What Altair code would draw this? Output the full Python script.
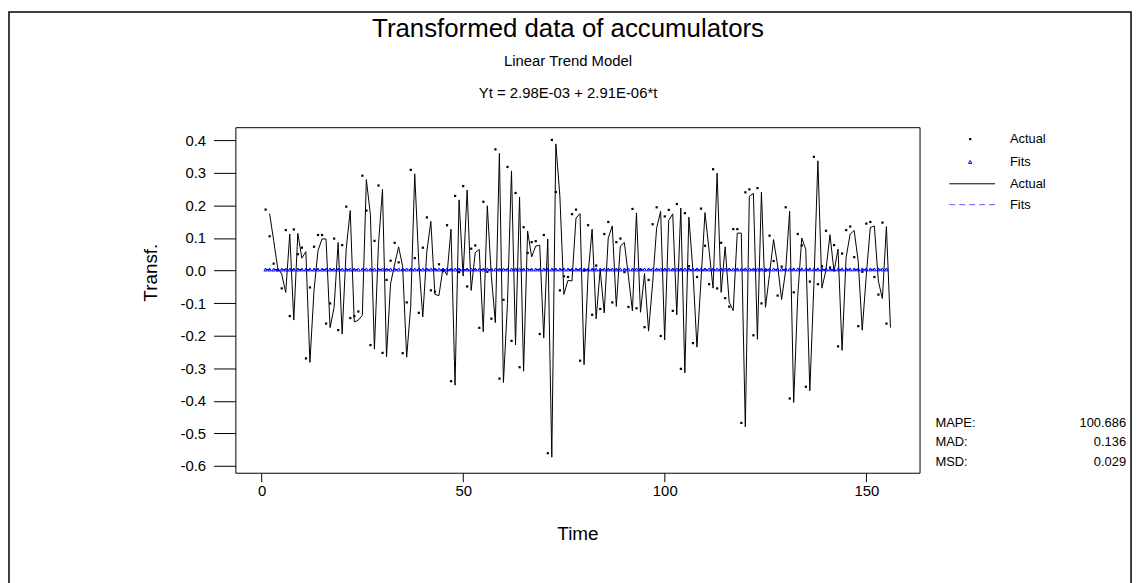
import altair as alt
import pandas as pd

# ---------------- data ----------------
T = list(range(1, 156))

ACTUAL = [
    0.187, 0.105, 0.021, 0.001, -0.055, 0.124, -0.140, 0.126, 0.050, 0.070,
    -0.270, -0.052, 0.073, 0.109, 0.109, -0.163, -0.101, 0.098, -0.183, 0.078,
    0.196, -0.146, -0.140, -0.126, 0.291, 0.184, -0.229, 0.091, 0.261, -0.253,
    -0.029, 0.030, 0.085, 0.025, -0.254, -0.098, 0.309, 0.038, -0.130, 0.070,
    0.163, -0.061, -0.065, 0.019, -0.002, 0.139, -0.340, 0.229, -0.005, 0.259,
    -0.049, 0.067, 0.077, -0.176, 0.211, -0.004, -0.148, 0.372, -0.332, -0.090,
    0.318, -0.216, 0.238, -0.297, 0.133, 0.054, 0.087, 0.090, -0.195, 0.109,
    -0.561, 0.401, 0.241, -0.061, -0.018, -0.020, 0.173, 0.187, -0.277, 0.000,
    0.139, -0.136, 0.015, -0.118, 0.112, 0.149, -0.098, 0.087, 0.098, -0.005,
    -0.112, 0.189, -0.116, 0.003, -0.174, -0.029, 0.142, 0.194, -0.201, 0.166,
    0.186, -0.124, 0.204, -0.302, 0.176, 0.013, -0.223, -0.020, 0.190, 0.076,
    -0.042, 0.311, -0.055, 0.085, -0.085, -0.111, 0.127, 0.127, -0.468, 0.240,
    0.249, -0.199, 0.253, -0.101, 0.000, 0.107, 0.029, -0.077, 0.012, 0.194,
    -0.393, -0.067, 0.112, 0.077, -0.357, -0.034, 0.349, -0.042, 0.013, 0.122,
    0.009, 0.078, -0.233, 0.052, 0.124, 0.135, 0.041, -0.171, -0.004, 0.144,
    0.149, -0.020, -0.074, 0.147, -0.163,
]

FITS = [
    0.0030, 0.0030, 0.0030, 0.0030, 0.0030, 0.0030, 0.0030, 0.0030, 0.0030, 0.0030,
    0.0030, 0.0030, 0.0030, 0.0030, 0.0030, 0.0030, 0.0030, 0.0030, 0.0030, 0.0030,
    0.0030, 0.0030, 0.0030, 0.0030, 0.0031, 0.0031, 0.0031, 0.0031, 0.0031, 0.0031,
    0.0031, 0.0031, 0.0031, 0.0031, 0.0031, 0.0031, 0.0031, 0.0031, 0.0031, 0.0031,
    0.0031, 0.0031, 0.0031, 0.0031, 0.0031, 0.0031, 0.0031, 0.0031, 0.0031, 0.0031,
    0.0031, 0.0031, 0.0031, 0.0031, 0.0031, 0.0031, 0.0031, 0.0031, 0.0032, 0.0032,
    0.0032, 0.0032, 0.0032, 0.0032, 0.0032, 0.0032, 0.0032, 0.0032, 0.0032, 0.0032,
    0.0032, 0.0032, 0.0032, 0.0032, 0.0032, 0.0032, 0.0032, 0.0032, 0.0032, 0.0032,
    0.0032, 0.0032, 0.0032, 0.0032, 0.0032, 0.0032, 0.0032, 0.0032, 0.0032, 0.0032,
    0.0032, 0.0032, 0.0033, 0.0033, 0.0033, 0.0033, 0.0033, 0.0033, 0.0033, 0.0033,
    0.0033, 0.0033, 0.0033, 0.0033, 0.0033, 0.0033, 0.0033, 0.0033, 0.0033, 0.0033,
    0.0033, 0.0033, 0.0033, 0.0033, 0.0033, 0.0033, 0.0033, 0.0033, 0.0033, 0.0033,
    0.0033, 0.0033, 0.0033, 0.0033, 0.0033, 0.0033, 0.0033, 0.0034, 0.0034, 0.0034,
    0.0034, 0.0034, 0.0034, 0.0034, 0.0034, 0.0034, 0.0034, 0.0034, 0.0034, 0.0034,
    0.0034, 0.0034, 0.0034, 0.0034, 0.0034, 0.0034, 0.0034, 0.0034, 0.0034, 0.0034,
    0.0034, 0.0034, 0.0034, 0.0034, 0.0034,
]

X_TICKS = [0, 50, 100, 150]
Y_TICKS = [0.4, 0.3, 0.2, 0.1, 0.0, -0.1, -0.2, -0.3, -0.4, -0.5, -0.6]
X_DOMAIN = [-6.5, 163.2]
Y_DOMAIN = [-0.621, 0.44]

TITLE = "Transformed data of accumulators"
SUBTITLE = "Linear Trend Model"
EQUATION = "Yt = 2.98E-03 + 2.91E-06*t"
X_TITLE = "Time"
Y_TITLE = "Transf."
LEGEND_LABELS = ["Actual", "Fits", "Actual", "Fits"]
ACC_NAMES = ["MAPE:", "MAD:", "MSD:"]
ACC_VALUES = ["100.686", "0.136", "0.029"]

# ---------------- chart ----------------
FONT = "Liberation Sans"
W, H = 689, 348
BLUE = "#0000FF"

df = pd.DataFrame({"t": T, "actual": ACTUAL, "fit": FITS})
one = pd.DataFrame({"k": [0]})

xs = alt.Scale(domain=X_DOMAIN, nice=False, zero=False)
ys = alt.Scale(domain=Y_DOMAIN, nice=False, zero=False)

xaxis = alt.Axis(values=X_TICKS, format="d", title=X_TITLE, tickSize=9,
                 labelPadding=2, titlePadding=26, labelFontSize=15,
                 titleFontSize=19, titleFontWeight="normal", domain=False,
                 grid=False, tickColor="black", labelColor="black",
                 titleColor="black", labelFont=FONT, titleFont=FONT,
                 labelOverlap=False)
yaxis = alt.Axis(values=Y_TICKS,
                 labelExpr="replace(format(datum.value, '.1f'), '\u2212', '-')",
                 title=Y_TITLE, tickSize=22, labelPadding=8, titlePadding=20,
                 titleY=146,
                 labelFontSize=15, titleFontSize=19, titleFontWeight="normal",
                 domain=False, grid=False, tickColor="black", labelColor="black",
                 titleColor="black", labelFont=FONT, titleFont=FONT,
                 labelOverlap=False)

X = alt.X("t:Q", scale=xs, axis=xaxis)
YA = alt.Y("actual:Q", scale=ys, axis=yaxis)
YF = alt.Y("fit:Q", scale=ys, axis=yaxis)

actual_line = alt.Chart(df).mark_line(
    color="black", strokeWidth=1, xOffset=4, yOffset=4
).encode(x=X, y=YA)

actual_pts = alt.Chart(df).mark_square(
    size=5, color="black", opacity=1
).encode(x=X, y=YA)

fit_line = alt.Chart(df).mark_line(
    color=BLUE, strokeWidth=1, strokeDash=[5, 3]
).encode(x=X, y=YF)

fit_pts = alt.Chart(df).mark_point(
    shape="triangle-up", filled=False, size=12, color=BLUE, strokeWidth=1, opacity=1
).encode(x=X, y=YF)


def text(s, x, y, size, align="center", baseline="middle"):
    return alt.Chart(one).mark_text(
        text=s, font=FONT, fontSize=size, color="black", align=align,
        baseline=baseline
    ).encode(x=alt.value(x), y=alt.value(y))


titles = [
    text(TITLE, 335, -99, 26),
    text(SUBTITLE, 335, -67, 15),
    text(EQUATION, 335, -34, 15),
]

# legend (right of plot)
LX_SYM, LX_TXT = 740, 780
LY = [12, 35, 57, 78]
legend = [
    alt.Chart(one).mark_square(size=5, color="black", opacity=1).encode(
        x=alt.value(LX_SYM), y=alt.value(LY[0])),
    alt.Chart(one).mark_point(shape="triangle-up", filled=False, size=12,
                              color=BLUE, strokeWidth=1, opacity=1).encode(
        x=alt.value(LX_SYM), y=alt.value(LY[1])),
    alt.Chart(one).mark_rule(color="black", strokeWidth=1).encode(
        x=alt.value(719), x2=alt.value(765), y=alt.value(LY[2])),
    alt.Chart(one).mark_rule(color="#6060FF", strokeWidth=1, strokeDash=[6, 4]).encode(
        x=alt.value(719), x2=alt.value(765), y=alt.value(LY[3])),
]
legend += [text(lab, LX_TXT, y, 13, align="left") for lab, y in zip(LEGEND_LABELS, LY)]

acc = []
for i, (n, v) in enumerate(zip(ACC_NAMES, ACC_VALUES)):
    y = 298 + 19.5 * i
    acc.append(text(n, 705, y, 13, align="left"))
    acc.append(text(v, 897, y, 13, align="right"))

border = alt.Chart(one).mark_rect(
    filled=False, stroke="black", strokeWidth=1.5, fillOpacity=0
).encode(x=alt.value(-228), y=alt.value(-116), x2=alt.value(902), y2=alt.value(700))

chart = alt.layer(
    border, actual_line, actual_pts, fit_line, fit_pts, *titles, *legend, *acc
).properties(
    width=W, height=H,
    autosize=alt.AutoSizeParams(type="none"),
    padding={"left": 229, "top": 118, "right": 218, "bottom": 109},
    background="white",
).configure_view(stroke="black", strokeWidth=1)

chart.save("out.html", embed_options={"renderer": "svg", "actions": False})
